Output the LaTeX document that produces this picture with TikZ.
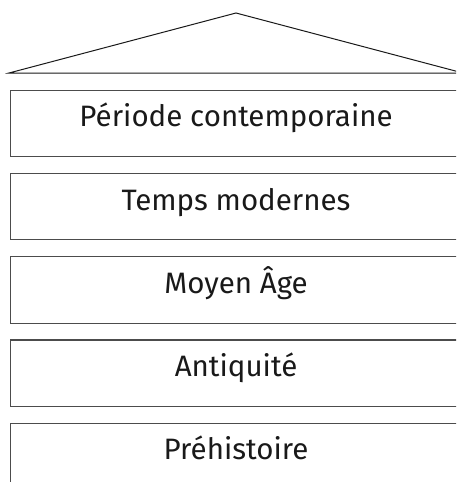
\documentclass[tikz,border=0pt]{standalone}
\usepackage{fontspec}
\setmainfont{Fira Sans}
\begin{document}
\begin{tikzpicture}[x=1pt,y=-1pt,
  period/.style={draw=black!70, line width=1.1pt, minimum width=452pt, minimum height=66.5pt,
    inner sep=0pt, anchor=north west, text height=0.68em, text depth=0pt,
    font=\fontsize{29.5}{30}\selectfont, text=black!90},
  roofline/.style={draw=black!90, line width=1pt}]
\clip (0,0) rectangle (456,482);
\coordinate (apex) at (236,13);
\coordinate (rl) at (9,73);
\coordinate (rr) at (463,73);
\draw[roofline] (rl) -- (apex) -- (rr) -- cycle;
\node[period] (p1) at (9.5,89.5) {Période contemporaine};
\node[period] (p2) at (9.5,172.8) {Temps modernes};
\node[period] (p3) at (9.5,256.1) {Moyen Âge};
\node[period] (p4) at (9.5,339.4) {Antiquité};
\node[period] (p5) at (9.5,422.7) {Préhistoire};
\end{tikzpicture}
\end{document}
